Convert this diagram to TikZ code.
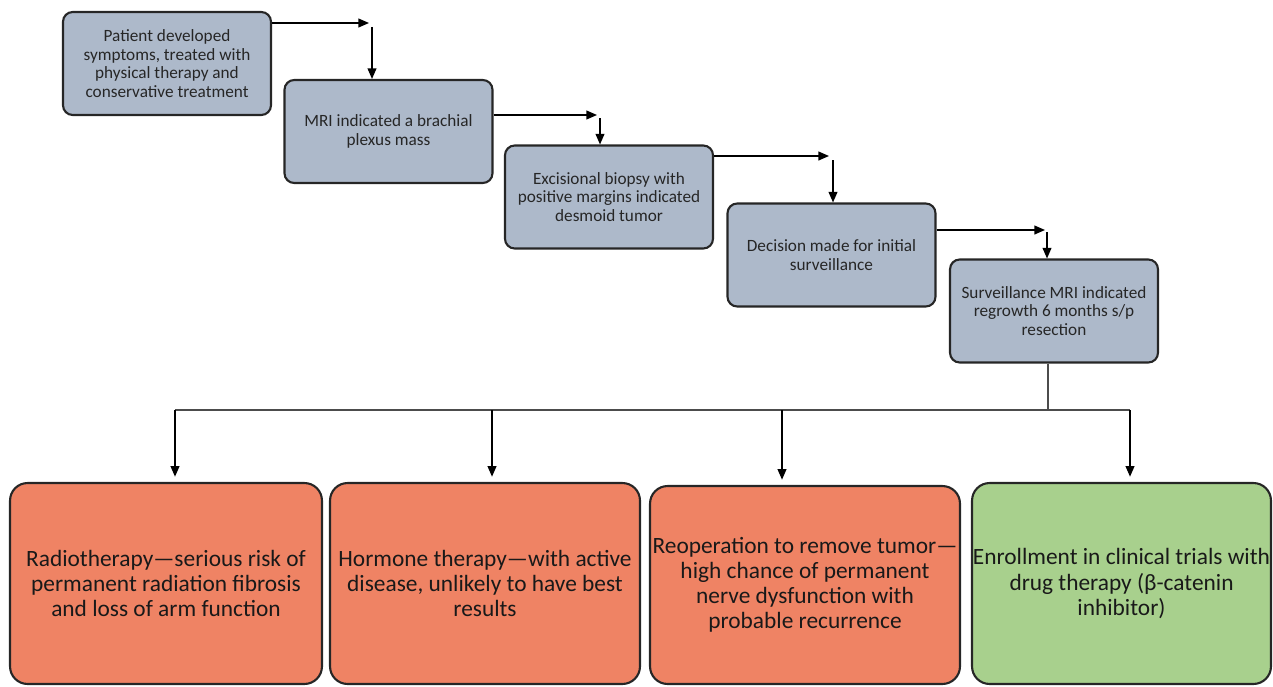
\documentclass[tikz,border=0pt]{standalone}
\usepackage{fontspec}
\setmainfont{Carlito}
\usetikzlibrary{arrows.meta}
\definecolor{stagegrey}{HTML}{ADB9CA}
\definecolor{riskred}{HTML}{EF8364}
\definecolor{trialgreen}{HTML}{A8D08D}

\begin{document}
\begin{tikzpicture}[x=0.02cm,y=-0.02cm,stage/.style={draw=black!85, line width=1.2pt, rounded corners=5.5pt, fill=stagegrey, minimum width=4.16cm, minimum height=2.06cm, align=center, inner sep=1pt, text=black!85, font=\fontsize{9.8}{10.5}\selectfont},option/.style={draw=black!85, line width=1.2pt, rounded corners=10pt, minimum height=4.02cm, align=center, inner sep=0pt, text=black!90, font=\fontsize{13.3}{14.3}\selectfont},link/.style={line width=0.8pt, -{Triangle[length=6pt,width=5pt]}},bus/.style={line width=0.6pt, draw=black!70}]
\useasboundingbox (0,0) rectangle (1273,686);
% clinical course
\node[stage] (b1) at (167,63.5) {Patient developed\\symptoms, treated with\\physical therapy and\\conservative treatment};\node[stage] (b2) at (388.5,131.5) {MRI indicated a brachial\\plexus mass};\node[stage] (b3) at (609,197) {Excisional biopsy with\\positive margins indicated\\desmoid tumor};\node[stage] (b4) at (831.5,255) {Decision made for initial\\surveillance};\node[stage] (b5) at (1054,311) {Surveillance MRI indicated\\regrowth 6 months s/p\\resection};
\coordinate (t1) at (369,23);\coordinate (d1) at (372,27);\coordinate (t2) at (597,115);\coordinate (d2) at (600,118);\coordinate (t3) at (829,156);\coordinate (d3) at (833,160);\coordinate (t4) at (1045,230);\coordinate (d4) at (1047,232);
\draw[link] (b1.east |- t1) -- (t1);\draw[link] (d1) -- (b2.north -| d1);\draw[link] (b2.east |- t2) -- (t2);\draw[link] (d2) -- (b3.north -| d2);\draw[link] (b3.east |- t3) -- (t3);\draw[link] (d3) -- (b4.north -| d3);\draw[link] (b4.east |- t4) -- (t4);\draw[link] (d4) -- (b5.north -| d4);
% treatment options
\node[option, fill=riskred, minimum width=6.24cm] (r1) at (166,583.5) {Radiotherapy---serious risk of\\permanent radiation fibrosis\\and loss of arm function};
\node[option, fill=riskred, minimum width=6.2cm] (r2) at (485,583.5) {Hormone therapy---with active\\disease, unlikely to have best\\results};
\node[option, fill=riskred, minimum width=6.2cm, minimum height=3.96cm] (r3) at (805,585) {Reoperation to remove tumor---\\high chance of permanent\\nerve dysfunction with\\probable recurrence};
\node[option, fill=trialgreen, minimum width=5.98cm] (g1) at (1121.5,583.5) {Enrollment in clinical trials with\\drug therapy (β-catenin\\inhibitor)};
\coordinate (hub) at (1048,410);\coordinate (a1) at (175,410);\coordinate (a2) at (492,410);\coordinate (a3) at (782,410);\coordinate (a4) at (1130,410);
\draw[bus] (b5.south -| hub) -- (hub);\draw[bus] (a1) -- (a4);
\draw[link] (a1) -- ([yshift=3pt]r1.north -| a1);\draw[link] (a2) -- ([yshift=3pt]r2.north -| a2);\draw[link] (a3) -- ([yshift=3pt]r3.north -| a3);\draw[link] (a4) -- ([yshift=3pt]g1.north -| a4);
\end{tikzpicture}
\end{document}
